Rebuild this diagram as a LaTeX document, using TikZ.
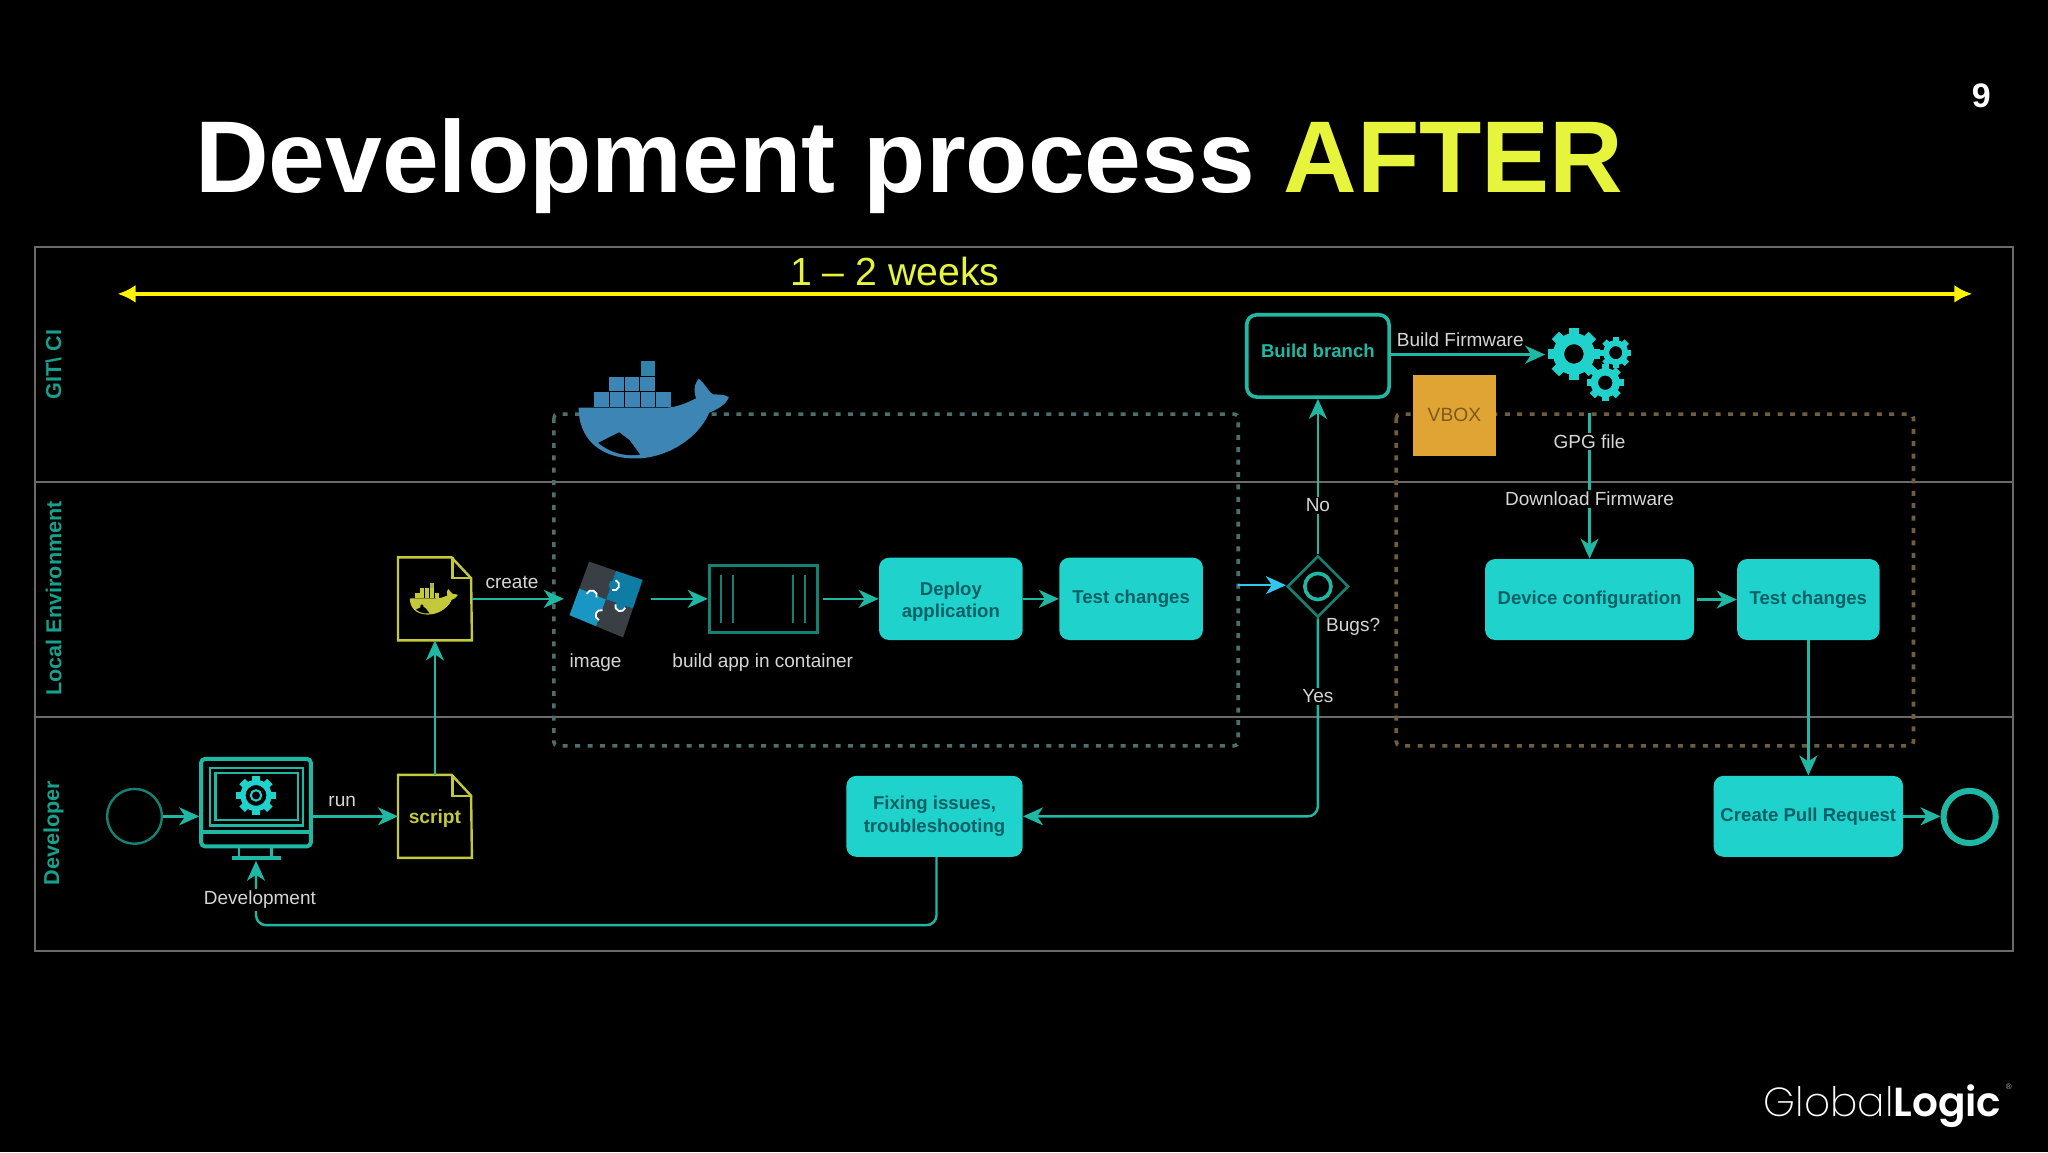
\documentclass[tikz,border=0pt]{standalone}
\usepackage{fontspec}
\setmainfont{Liberation Sans}
\newfontfamily\logolight{Poppins ExtraLight}
\newfontfamily\logobold{Poppins SemiBold}
\usetikzlibrary{arrows.meta,shapes.geometric}

\definecolor{framegrey}{HTML}{6A6A6A}
\definecolor{flowteal}{HTML}{1FB8A4}
\definecolor{laneteal}{HTML}{17A08C}
\definecolor{taskfill}{HTML}{1FD3CC}
\definecolor{taskink}{HTML}{0B5F66}
\definecolor{docyellow}{HTML}{C3C93A}
\definecolor{titleyellow}{HTML}{E6F53C}
\definecolor{labelgrey}{HTML}{D6D6D6}
\definecolor{whaleblue}{HTML}{3C85B5}
\definecolor{vboxfill}{HTML}{E0A435}
\definecolor{vboxink}{HTML}{7C5A1E}
\definecolor{groupteal}{HTML}{4D6E6A}
\definecolor{groupbrown}{HTML}{6E5E3E}
\definecolor{gatecyan}{HTML}{30C8F0}
\definecolor{puzzledark}{HTML}{3A3F45}
\definecolor{puzzleblue}{HTML}{0E7CA3}
\definecolor{puzzlelight}{HTML}{1A96C4}

\tikzset{
    boxsize/.style 2 args={minimum width=#1*0.653pt, minimum height=#2*0.653pt},
    flow/.style={draw=flowteal, line width=1.2pt, rounded corners=5pt,
        -{Stealth[length=10pt,width=9pt,inset=3pt]}},
    taskbox/.style={rectangle, rounded corners=5pt, fill=taskfill, text=taskink,
        inner sep=0pt, align=center, font=\bfseries\fontsize{9.3}{11.2}\selectfont},
    wordlabel/.style={text=labelgrey, inner sep=1pt, font=\fontsize{9.5}{11}\selectfont},
    linelabel/.style={wordlabel, fill=black},
    lanelabel/.style={rotate=90, text=laneteal, font=\bfseries\fontsize{10.8}{12}\selectfont},
    groupbox/.style={line width=1.8pt, rounded corners=2pt, dash pattern=on 2.5pt off 3.7pt},
    docnode/.style={rectangle, inner sep=0pt, boxsize={56}{63}, text=docyellow,
        font=\bfseries\fontsize{9.6}{11}\selectfont},
}

% whale: x, y, scale, colour
\newcommand{\whaleicon}[4]{
    \begin{scope}[shift={(#1,#2)}, scale=#3]
        \fill[#4] (-57,-3) -- (5,-3) .. controls (18,-2) and (26,-7) .. (33,-10)
            .. controls (30,-18) and (33,-23) .. (35,-25)
            .. controls (41,-20) and (43,-14) .. (46,-13)
            .. controls (50,-13) and (55,-13) .. (58,-11)
            .. controls (56,-5) and (48,-1) .. (43,1)
            .. controls (34,22) and (8,37) .. (-16,36)
            .. controls (-42,35) and (-57,20) .. (-57,-3) -- cycle;
        \fill[black] (-42,24) -- (-26,16) -- (-18,22) -- (-10,33)
            .. controls (-22,35) and (-34,31) .. (-42,24) -- cycle;
        \foreach \col in {0,...,4}
            \fill[#4] (-45+\col*11.8,-15) rectangle ++(11.2,11.6);
        \foreach \col in {0,...,2}
            \fill[#4] (-33.5+\col*11.8,-26.5) rectangle ++(11.2,11);
        \fill[#4!80!teal] (-9.5,-38.5) rectangle ++(11,11.4);
    \end{scope}
}

% gear: x, y, outer radius, hole radius
\newcommand{\gearicon}[4]{
    \begin{scope}[shift={(#1,#2)}]
        \foreach \a in {0,45,...,315}
            \fill[taskfill, rotate=\a] (-#3*0.2,-#3) rectangle (#3*0.2,-#3*0.7);
        \fill[taskfill, even odd rule] (0,0) circle[radius=#3*0.8] circle[radius=#4];
    \end{scope}
}

% document with folded corner
\newcommand{\docicon}[4]{
    \node[docnode] (#1) at (#2,#3) {#4};
    \draw[docyellow, line width=1.2pt] (#1.north west) -- ++(41,0) -- ++(15,16)
        -- (#1.south east) -- (#1.south west) -- cycle;
    \draw[docyellow, line width=1.2pt] (#1.north east) ++(-15,0) -- ++(0,16) -- ++(15,0);
}

\begin{document}
\begin{tikzpicture}[x=0.65306pt, y=-0.65306pt]
    \useasboundingbox (0,0) rectangle (1568,882);
    \fill[black] (0,0) rectangle (1568,882);

    % heading
    \node[anchor=base west, inner sep=0pt, text=white,
        font=\bfseries\fontsize{51}{60}\selectfont] (heading) at (149,147)
        {Development process \textcolor{titleyellow}{AFTER}};
    \node[text=white, font=\bfseries\fontsize{17}{20}\selectfont] (pagenum) at (1517,73) {9};

    % lanes
    \draw[framegrey, line width=1.2pt] (27,189) rectangle (1541,728);
    \draw[framegrey, line width=1.2pt] (27,369) -- (1541,369);
    \draw[framegrey, line width=1.2pt] (27,549) -- (1541,549);
    \foreach \y/\lane in {279/GIT\textbackslash{} CI, 458/Local Environment, 638/Developer}
        \node[lanelabel] at (41,\y) {\lane};

    % time span
    \coordinate (spanstart) at (90,225);
    \coordinate (spanend) at (1510,225);
    \draw[yellow, line width=1.8pt, {Latex[length=9pt,width=9pt]}-{Latex[length=9pt,width=9pt]}]
        (spanstart) -- (spanend);
    \node[text=titleyellow, font=\fontsize{19.6}{24}\selectfont] (spanlabel) at (685,208) {1 -- 2 weeks};

    % dashed groups
    \draw[groupbox, draw=groupteal] (424,317) rectangle (948,571);
    \draw[groupbox, draw=groupbrown] (1069,317) rectangle (1465,571);
    \whaleicon{500}{315}{1}{whaleblue}

    % nodes
    \node[circle, draw=flowteal!70!black, line width=1.2pt, minimum size=42*0.653pt, inner sep=0pt]
        (start) at (103,625) {};
    \node[rectangle, draw=flowteal, line width=2pt, rounded corners=2pt, inner sep=0pt,
        boxsize={84}{67}] (monitor) at (196,614.5) {};
    \docicon{scriptdoc}{333}{625}{\rule{0pt}{9.6pt}script}
    \docicon{dockerfile}{333}{458.5}{}
    \whaleicon{332}{459}{0.32}{docyellow}
    \fill[black] (323,464) circle[radius=1.3];
    \node[rectangle, inner sep=0pt, boxsize={64}{60}] (image) at (464,458.5) {};
    \node[rectangle, draw=flowteal!70!black, line width=1.5pt, inner sep=0pt,
        boxsize={83}{51}] (container) at (584.5,458.5) {};
    \node[taskbox, boxsize={110}{63}] (deploy) at (728,458.5) {\rule{0pt}{9.6pt}Deploy\\application};
    \node[taskbox, boxsize={110}{63}] (testleft) at (866,458.5) {Test changes};
    \node[diamond, draw=flowteal!70!black, line width=1.3pt, inner sep=0pt, aspect=1,
        minimum width=47*0.653pt, minimum height=47*0.653pt] (gate) at (1009,449) {};
    \node[circle, draw=flowteal, line width=1.8pt, minimum size=20*0.653pt, inner sep=0pt]
        (gatering) at (gate) {};
    \node[taskbox, fill=black, draw=flowteal, line width=1.8pt, text=flowteal,
        boxsize={109}{63}] (build) at (1009,272.5) {\rule[-5pt]{0pt}{5pt}Build branch};
    \node[rectangle, fill=vboxfill, text=vboxink, inner sep=0pt,
        font=\fontsize{9.6}{12}\selectfont, boxsize={63}{62}] (vbox) at (1113.5,318) {VBOX};
    \node[taskbox, boxsize={160}{62}] (device) at (1217,459) {Device configuration};
    \node[taskbox, boxsize={109}{62}] (testright) at (1384.5,459) {Test changes};
    \node[taskbox, boxsize={145}{62}] (pullreq) at (1384.5,625) {Create Pull Request};
    \node[taskbox, boxsize={135}{62}] (fixing) at (715.5,625) {Fixing issues,\\troubleshooting};
    \node[circle, draw=flowteal, line width=3pt, minimum size=40*0.653pt, inner sep=0pt]
        (finish) at (1508,625.5) {};

    % monitor details
    \draw[flowteal, line width=1.2pt] (161,588) rectangle (232,632);
    \draw[flowteal, line width=1.2pt] (165,592) rectangle (228,628);
    \draw[flowteal, line width=2pt] (154,637) -- (238,637);
    \draw[flowteal, line width=1.4pt] (183,648) -- (183,656) (208,648) -- (208,656);
    \draw[flowteal, line width=2pt] (178,657) -- (215,657);
    \gearicon{196}{609}{15}{8}
    \draw[taskfill, line width=1pt] (196,609) circle[radius=4];

    % puzzle pieces
    \fill[puzzledark] (451,430) -- (471.5,437) -- (464,459) -- (443.5,450.5) -- cycle;
    \fill[puzzleblue] (471.5,437) -- (492,444) -- (484.5,466) -- (464,459) -- cycle;
    \fill[puzzlelight] (443.5,450.5) -- (464,459) -- (456.5,479.5) -- (436,471) -- cycle;
    \fill[puzzledark] (464,459) -- (484.5,466) -- (477,488) -- (456.5,479.5) -- cycle;
    \foreach \x/\y/\s/\piece in {453/456/200/puzzlelight, 470/448/-70/puzzleblue,
            475/464/20/puzzleblue, 460/471/110/puzzledark} {
        \fill[\piece] (\x,\y) circle[radius=4];
        \draw[white, line width=0.9pt] (\x,\y) ++(\s:4) arc[start angle=\s, delta angle=180, radius=4];
    }

    % container lines
    \foreach \x in {552,561,607,616}
        \draw[flowteal!70!black, line width=1pt] (\x,440) -- (\x,477);

    % gears
    \gearicon{1205}{271}{20}{7.5}
    \gearicon{1237}{270}{12}{5}
    \gearicon{1229}{293}{14}{5.5}
    \coordinate (gears) at (1183,271.5);
    \coordinate (gearfoot) at (1217,316);
    \coordinate (gatein) at (948,448);
    \coordinate (monitorfoot) at (196,659);

    % connectors
    \draw[flow] (start.east) -- (monitor.west |- start.east);
    \draw[flow] (monitor.east |- scriptdoc.west) -- (scriptdoc.west);
    \draw[flow] (scriptdoc.north) -- (dockerfile.south);
    \draw[flow] (dockerfile.east) -- (image.west);
    \draw[flow] (image.east) ++(2,0) -- (container.west);
    \draw[flow] (container.east) ++(3,0) -- (deploy.west);
    \draw[flow] (deploy.east) -- (testleft.west);
    \draw[flow, draw=gatecyan] (gatein) -- (gate.west |- gatein);
    \draw[flow] (gate.north) -- (build.south);
    \draw[flow] (build.east) ++(0,-1) -- (gears);
    \draw[flow] (gearfoot) -- (device.north);
    \draw[flow] (device.east) ++(2,0) -- (testright.west);
    \draw[flow] (testright.south) -- (pullreq.north);
    \draw[flow] (pullreq.east) -- (finish.west |- pullreq.east);
    \draw[flow] (gate.south) |- (fixing.east);
    \draw[flow] (fixing.south) ++(1.5,0) -- ++(0,52) -| (monitorfoot);

    % labels
    \node[wordlabel] at (392,446) {create};
    \node[wordlabel] at (262,614) {run};
    \node[wordlabel] at (456,507) {image};
    \node[wordlabel] at (584,507) {build app in container};
    \node[wordlabel] at (1036,480) {Bugs?};
    \node[wordlabel] at (1118,260) {Build Firmware};
    \node[linelabel] at (199,689) {Development};
    \node[linelabel] at (1009,387) {No};
    \node[linelabel] at (1009,533) {Yes};
    \node[linelabel] at (1217,338) {GPG file};
    \node[linelabel] at (1217,382) {Download Firmware};

    % logo
    \node[anchor=base west, inner sep=0pt, text=white, font=\fontsize{20.3}{24}\selectfont]
        (logo) at (1350,855) {{\logolight Global}{\logobold Logic}};
    \node[text=white!70!black, inner sep=0pt, font=\fontsize{4}{5}\selectfont] (logomark) at (1538,832) {®};
\end{tikzpicture}
\end{document}
